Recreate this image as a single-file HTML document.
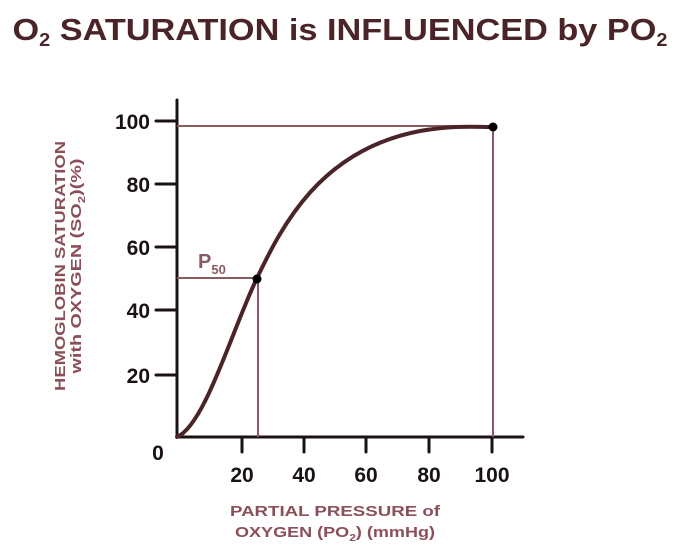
<!DOCTYPE html>
<html><head><meta charset="utf-8"><style>
body{margin:0;background:#fff;}
svg{display:block;}
text{font-family:"Liberation Sans",sans-serif;font-weight:bold;}
</style></head><body>
<svg width="689" height="557" viewBox="0 0 689 557" xmlns="http://www.w3.org/2000/svg">
<text x="340" y="40" text-anchor="middle" font-size="31" fill="#4a2428" textLength="655" lengthAdjust="spacingAndGlyphs">O<tspan font-size="18" dy="6">2</tspan><tspan dy="-6"> SATURATION is INFLUENCED by PO</tspan><tspan font-size="18" dy="6">2</tspan></text>
<g stroke="#1a1214" stroke-width="3" fill="none" stroke-linecap="round">
<line x1="177" y1="100" x2="177" y2="437"/>
<line x1="177" y1="437" x2="523" y2="437"/>
<line x1="156" y1="121" x2="177" y2="121"/>
<line x1="156" y1="184" x2="177" y2="184"/>
<line x1="156" y1="247" x2="177" y2="247"/>
<line x1="156" y1="310" x2="177" y2="310"/>
<line x1="156" y1="375" x2="177" y2="375"/>
<line x1="242" y1="437" x2="242" y2="452"/>
<line x1="304" y1="437" x2="304" y2="452"/>
<line x1="366" y1="437" x2="366" y2="452"/>
<line x1="429" y1="437" x2="429" y2="452"/>
<line x1="492" y1="437" x2="492" y2="452"/>
</g>
<g stroke="#8a5a60" stroke-width="2" fill="none">
<line x1="177" y1="126" x2="493" y2="126"/>
<line x1="493" y1="126" x2="493" y2="437"/>
<line x1="177" y1="278" x2="257" y2="278"/>
<line x1="258" y1="278" x2="258" y2="437"/>
</g>
<path d="M177,437 C205,425 232,330 257,278 C282,226 320,150 420,131 C455,125 475,127 492,127" stroke="#4a2428" stroke-width="4" fill="none" stroke-linecap="round"/>
<circle cx="257" cy="279" r="4.5" fill="#000"/>
<circle cx="493" cy="127" r="4.5" fill="#000"/>
<text x="198" y="268" font-size="20" fill="#8a5a60">P<tspan font-size="13" dy="6">50</tspan></text>
<g font-size="21" fill="#1a1214" text-anchor="end">
<text x="150" y="129">100</text>
<text x="150" y="192">80</text>
<text x="150" y="255">60</text>
<text x="150" y="318">40</text>
<text x="150" y="383">20</text>
</g>
<text x="158" y="460" font-size="21" fill="#1a1214" text-anchor="middle">0</text>
<g font-size="21" fill="#1a1214" text-anchor="middle">
<text x="242" y="482">20</text>
<text x="304" y="482">40</text>
<text x="366" y="482">60</text>
<text x="429" y="482">80</text>
<text x="492" y="482">100</text>
</g>
<g fill="#8a4f58" font-size="15" text-anchor="middle">
<text transform="translate(65,266) rotate(-90)" textLength="250" lengthAdjust="spacingAndGlyphs">HEMOGLOBIN SATURATION</text>
<text transform="translate(81,266) rotate(-90)" textLength="215" lengthAdjust="spacingAndGlyphs">with OXYGEN (SO<tspan font-size="10" dy="4">2</tspan><tspan dy="-4">)(%)</tspan></text>
<text x="335" y="516" textLength="210" lengthAdjust="spacingAndGlyphs">PARTIAL PRESSURE of</text>
<text x="335" y="537" textLength="200" lengthAdjust="spacingAndGlyphs">OXYGEN (PO<tspan font-size="10" dy="4">2</tspan><tspan dy="-4">) (mmHg)</tspan></text>
</g>
</svg>
</body></html>
